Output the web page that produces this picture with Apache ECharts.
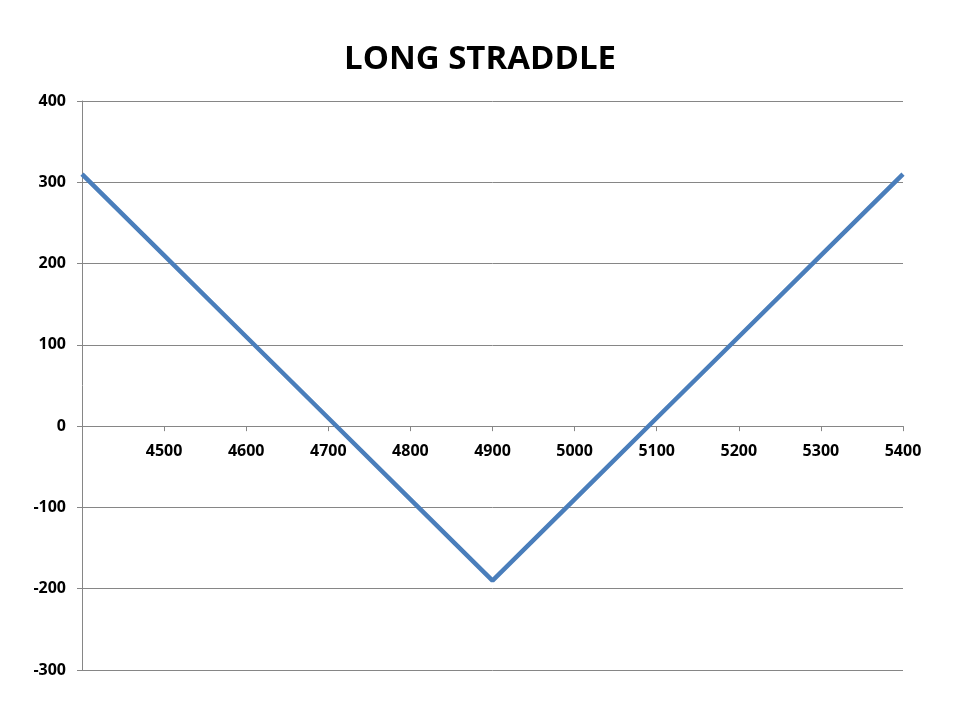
<!DOCTYPE html>
<html><head><meta charset="utf-8">
<script src="https://cdn.jsdelivr.net/npm/echarts@6/dist/echarts.min.js"></script>
<style>html,body{margin:0;padding:0;background:#fff}#c{width:960px;height:720px}</style>
</head><body><div id="c"></div>
<script>
const prices = [4400, 4500, 4600, 4700, 4800, 4900, 5000, 5100, 5200, 5300, 5400];
const payoff = [310, 210, 110, 10, -90, -190, -90, 10, 110, 210, 310];
const titleText = 'LONG STRADDLE';

const chart = echarts.init(document.getElementById('c'), null, {renderer: 'canvas'});
const fontFam = '"Open Sans", "Liberation Sans", sans-serif';
const gridTop = 101, gridBottom = 50, H = 720;
const yMin = -300, yMax = 400;
const plotH = H - gridTop - gridBottom;
const zeroOffset = plotH * (0 - yMin) / (yMax - yMin);
chart.setOption({
  animation: false,
  backgroundColor: '#fff',
  title: {
    text: titleText, left: 'center', top: 38,
    textStyle: {fontFamily: fontFam, fontWeight: 'bold', fontSize: 33, color: '#000'}
  },
  grid: {left: 82, right: 57, top: gridTop, bottom: gridBottom},
  xAxis: {
    type: 'value', min: 4400, max: 5400, interval: 100,
    position: 'bottom', offset: -zeroOffset,
    axisLine: {onZero: false, lineStyle: {color: '#868686', width: 1}},
    axisTick: {show: true, length: 5, lineStyle: {color: '#868686'}},
    axisLabel: {showMinLabel: false, margin: 17, fontFamily: fontFam, fontWeight: 'bold', fontSize: 16, color: '#000',
      formatter: v => String(v)},
    splitLine: {show: false}
  },
  yAxis: {
    type: 'value', min: yMin, max: yMax, interval: 100,
    axisLine: {show: true, lineStyle: {color: '#868686', width: 1}},
    axisTick: {show: true, length: 5, lineStyle: {color: '#868686'}},
    axisLabel: {margin: 16, fontFamily: fontFam, fontWeight: 'bold', fontSize: 16, color: '#000'},
    splitLine: {show: true, lineStyle: {color: '#868686', width: 1}}
  },
  series: [{
    type: 'line',
    data: prices.map((p, i) => [p, payoff[i]]),
    showSymbol: false, symbol: 'none',
    lineStyle: {color: '#4a7ebb', width: 4.5},
    itemStyle: {color: '#4a7ebb'}
  }]
});
</script></body></html>
